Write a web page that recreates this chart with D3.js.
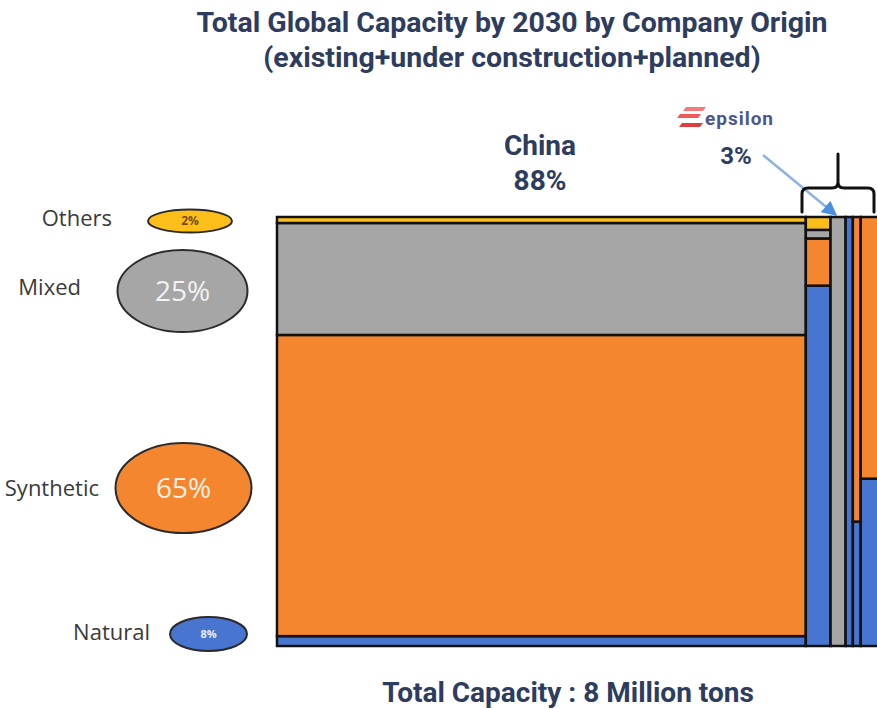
<!DOCTYPE html>
<html><head><meta charset="utf-8">
<script src="https://cdn.jsdelivr.net/npm/d3@7"></script>
<style>html,body{margin:0;padding:0;background:#fff;overflow:hidden}</style>
</head><body>
<script>
// ---- data ----
const companies = ["China", "Epsilon", "Company C", "Company D", "Company E", "Company F"];
const companyShare = [87.7, 4.1, 2.5, 1.2, 1.3, 3.2];
const types = ["Natural", "Synthetic", "Mixed", "Others"];
const naturalVals = [2.3, 84, 0, 100, 29, 39];
const syntheticVals = [70.2, 11, 0, 0, 71, 61];
const mixedVals = [26.1, 2, 100, 0, 0, 0];
const othersVals = [1.4, 3, 0, 0, 0, 0];
const legendShares = [8, 65, 25, 2];
const titleLines = ["Total Global Capacity by 2030 by Company Origin", "(existing+under construction+planned)"];
const chinaLabel = ["China", "88%"];
const epsilonLabel = ["epsilon", "3%"];
const footer = "Total Capacity : 8 Million tons";

const colors = {Natural:"#4775cf", Synthetic:"#f58630", Mixed:"#a6a6a6", Others:"#fcbf1a"};
const navy = "#2e3c5e";

const W = 877, H = 709;
const svg = d3.select("body").append("svg").attr("width", W).attr("height", H)
  .style("font-family", "Roboto, 'Open Sans', sans-serif");

// title
svg.selectAll("text.title").data(titleLines).join("text")
  .attr("x", 512).attr("y", (d,i)=> 32 + i*35)
  .attr("text-anchor","middle").attr("font-size", 28.5).attr("font-weight", 700)
  .attr("fill", navy).text(d=>d);

// scales
const total = d3.sum(companyShare);
const x = d3.scaleLinear().domain([0, total]).range([277, 880]);
const y = d3.scaleLinear().domain([0, 100]).range([646, 217]);

const series = [naturalVals, syntheticVals, mixedVals, othersVals];
const cum = [0, ...d3.cumsum(companyShare)];
const cells = [];
companies.forEach((c, ci) => {
  let base = 0;
  types.forEach((t, ti) => {
    const v = series[ti][ci];
    if (v > 0) cells.push({company:c, type:t, x0:cum[ci], x1:cum[ci+1], y0:base, y1:base+v});
    base += v;
  });
});

svg.append("g").selectAll("rect").data(cells).join("rect")
  .attr("x", d=>x(d.x0)).attr("width", d=>x(d.x1)-x(d.x0))
  .attr("y", d=>y(d.y1)).attr("height", d=>y(d.y0)-y(d.y1))
  .attr("fill", d=>colors[d.type])
  .attr("stroke", "#111").attr("stroke-width", 2.5);

// China label
svg.selectAll("text.china").data(chinaLabel).join("text")
  .attr("x", 540).attr("y", (d,i)=> 155 + i*35)
  .attr("text-anchor","middle").attr("font-size", 28).attr("font-weight", 700)
  .attr("fill", navy).text(d=>d);

// epsilon logo
const stripes = [[686,107,706,107,703,111,683,111,"#f37b7b"],[680,114,701,114,698,118,677,118,"#ee5a5a"],[682,123,703,123,700,127,679,127,"#e23c3c"]];
svg.append("g").selectAll("polygon").data(stripes).join("polygon")
  .attr("points", d=>`${d[0]},${d[1]} ${d[2]},${d[3]} ${d[4]},${d[5]} ${d[6]},${d[7]}`)
  .attr("fill", d=>d[8]);
svg.append("text").attr("x", 705).attr("y", 125).attr("font-size", 19).attr("font-weight", 700)
  .attr("fill", "#4d5494").attr("textLength", 68).text(epsilonLabel[0]);
svg.append("text").attr("x", 736).attr("y", 164).attr("text-anchor","middle")
  .attr("font-size", 24).attr("font-weight", 700).attr("fill", navy).text(epsilonLabel[1]);

// arrow
svg.append("defs").append("marker").attr("id","ah").attr("viewBox","0 0 10 10")
  .attr("refX", 9).attr("refY", 5).attr("markerWidth", 6).attr("markerHeight", 6)
  .attr("orient","auto").attr("markerUnits","strokeWidth")
  .append("path").attr("d","M0,0 L10,5 L0,10 z").attr("fill","#4a8fe0");
svg.append("line").attr("x1", 763).attr("y1", 155).attr("x2", 836).attr("y2", 215)
  .attr("stroke","#8fb2e3").attr("stroke-width", 2.5).attr("marker-end","url(#ah)");

// brace
svg.append("path")
  .attr("d","M802,212 L802,194 Q802,188 808,188 L832,188 Q838,188 838,182 L838,154 M838,182 Q838,188 844,188 L868,188 Q874,188 874,194 L874,212")
  .attr("fill","none").attr("stroke","#111").attr("stroke-width", 3).attr("stroke-linecap","round");

// legend
const legend = [
  {label:"Others", cx:190, cy:221, rx:42, ry:11.5, fs:12, fc:"#7a4a10", fw:700, tx:112, lfs:22, dy:-3},
  {label:"Mixed", cx:182.5, cy:291, rx:65, ry:41, fs:28, fc:"#f2f2f2", fw:400, tx:81, lfs:22, dy:-4},
  {label:"Synthetic", cx:183.5, cy:488, rx:68, ry:45, fs:28, fc:"#f7efe0", fw:400, tx:99, lfs:22, dy:0},
  {label:"Natural", cx:208.5, cy:634, rx:38.5, ry:17, fs:11, fc:"#e8eefa", fw:700, tx:150, lfs:22, dy:-2}
];
const legendVal = {Natural:legendShares[0], Synthetic:legendShares[1], Mixed:legendShares[2], Others:legendShares[3]};
const lg = svg.append("g").style("font-family","'Open Sans', sans-serif");
lg.selectAll("ellipse").data(legend).join("ellipse")
  .attr("cx", d=>d.cx).attr("cy", d=>d.cy).attr("rx", d=>d.rx).attr("ry", d=>d.ry)
  .attr("fill", d=>colors[d.label]).attr("stroke","#2b2b2b").attr("stroke-width", 2);
lg.selectAll("text.val").data(legend).join("text")
  .attr("x", d=>d.cx).attr("y", d=>d.cy).attr("dy","0.35em").attr("text-anchor","middle")
  .attr("font-size", d=>d.fs).attr("font-weight", d=>d.fw).attr("fill", d=>d.fc)
  .text(d=>legendVal[d.label] + "%");
lg.selectAll("text.lab").data(legend).join("text")
  .attr("x", d=> d.tx).attr("y", d=>d.cy + d.dy).attr("dy","0.35em").attr("text-anchor","end")
  .attr("font-size", d=>d.lfs).attr("fill","#3a3a3a").text(d=>d.label);

// footer
svg.append("text").attr("x", 568).attr("y", 702).attr("text-anchor","middle")
  .attr("font-size", 28).attr("font-weight", 700).attr("fill", navy).text(footer);
</script>
</body></html>
